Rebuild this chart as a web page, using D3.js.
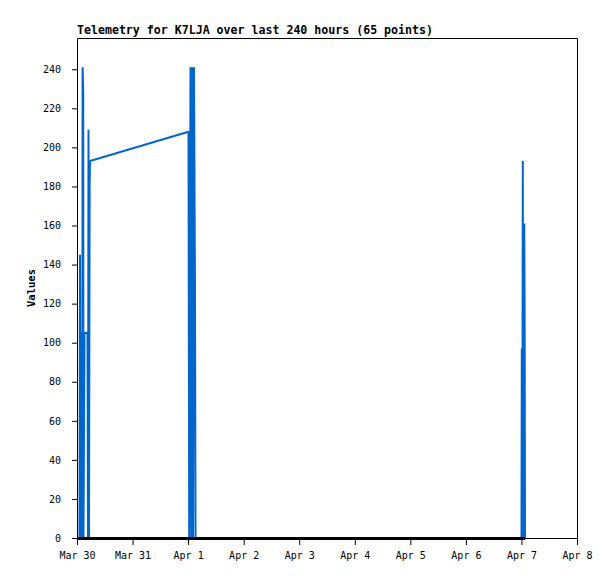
<!DOCTYPE html>
<html>
<head>
<meta charset="utf-8">
<script src="https://cdn.jsdelivr.net/npm/d3@7"></script>
<style>
  body { margin: 0; background: #fff; }
  svg { display: block; }
  .tick text { font-family: "DejaVu Sans Mono", monospace; font-size: 10px; fill: #000; }
  .title { font-family: "DejaVu Sans Mono", monospace; font-weight: bold; font-size: 11.6px; }
  .ylabel { font-family: "DejaVu Sans Mono", monospace; font-weight: bold; font-size: 10.5px; }
</style>
</head>
<body>
<div id="chart"></div>
<script>
"use strict";

// telemetry samples (UTC) and values
var times = [
  "2024-03-30T01:05", "2024-03-30T01:18", "2024-03-30T01:31", "2024-03-30T01:44",
  "2024-03-30T02:10", "2024-03-30T02:17", "2024-03-30T02:25", "2024-03-30T02:41",
  "2024-03-30T02:48", "2024-03-30T03:14", "2024-03-30T04:32", "2024-03-30T04:45",
  "2024-03-30T04:58", "2024-03-30T05:11", "2024-03-30T05:27", "2024-03-30T05:37",
  "2024-04-01T00:10", "2024-04-01T00:28", "2024-04-01T01:02", "2024-04-01T01:23",
  "2024-04-01T01:46", "2024-04-01T02:07", "2024-04-01T02:33", "2024-04-01T02:59",
  "2024-04-01T03:12",
  "2024-04-07T00:01", "2024-04-07T00:09", "2024-04-07T00:22", "2024-04-07T00:35",
  "2024-04-07T00:48", "2024-04-07T01:12", "2024-04-07T01:22", "2024-04-07T01:32"
];
var values = [
  0, 145, 0, 105,
  105, 0, 241, 229,
  0, 105, 105, 0,
  209, 0, 181, 193,
  208, 0, 241, 0,
  241, 0, 241, 121,
  0,
  0, 97, 0, 193,
  0, 161, 120, 0
];
var yTicks = [0, 20, 40, 60, 80, 100, 120, 140, 160, 180, 200, 220, 240];
var xTicks = ["2024-03-30", "2024-03-31", "2024-04-01", "2024-04-02", "2024-04-03",
              "2024-04-04", "2024-04-05", "2024-04-06", "2024-04-07", "2024-04-08"];
var titleText = "Telemetry for K7LJA over last 240 hours (65 points)";

var margin = {top: 38, right: 38, bottom: 41, left: 77};
var width = 500, height = 500;

var parse = d3.utcParse("%Y-%m-%dT%H:%M");
var parseDay = d3.utcParse("%Y-%m-%d");
var data = times.map(function(t, i) { return {date: parse(t), value: values[i]}; });

var x = d3.scaleUtc()
    .domain([parseDay(xTicks[0]), parseDay(xTicks[xTicks.length - 1])])
    .range([0, width]);
var y = d3.scaleLinear()
    .domain([0, 256])
    .range([height, 0]);

var svg = d3.select("#chart").append("svg")
    .attr("width", 615)
    .attr("height", 579);

svg.append("rect").attr("width", 615).attr("height", 579).attr("fill", "#fff");

svg.append("text")
    .attr("class", "title")
    .attr("x", margin.left)
    .attr("y", 34)
    .text(titleText);

svg.append("text")
    .attr("class", "ylabel")
    .attr("transform", "translate(35," + (margin.top + height / 2) + ") rotate(-90)")
    .attr("text-anchor", "middle")
    .text("Values");

var g = svg.append("g")
    .attr("transform", "translate(" + margin.left + "," + margin.top + ")");

// frame (top and right)
g.append("path")
    .attr("d", "M0.5,0.5H" + (width + 0.5) + "V" + (height + 0.5))
    .attr("fill", "none")
    .attr("stroke", "#000");

var line = d3.line()
    .x(function(d) { return x(d.date); })
    .y(function(d) { return y(d.value); });

g.append("path")
    .datum(data)
    .attr("fill", "none")
    .attr("stroke", "#0066cc")
    .attr("stroke-width", 2)
    .attr("stroke-linejoin", "bevel")
    .attr("d", line);

// zero baseline series
var zeroLine = d3.line()
    .x(function(d) { return x(d.date); })
    .y(function() { return y(0); });

g.append("path")
    .datum([{date: x.domain()[0]}].concat(data))
    .attr("fill", "none")
    .attr("stroke", "#000")
    .attr("stroke-width", 3)
    .attr("shape-rendering", "crispEdges")
    .attr("d", zeroLine);

g.append("g")
    .attr("transform", "translate(0," + height + ")")
    .call(d3.axisBottom(x)
      .tickValues(xTicks.map(parseDay))
      .tickFormat(d3.utcFormat("%b %-d"))
      .tickSize(7)
      .tickSizeOuter(0)
      .tickPadding(7))
    .call(function(a) { a.selectAll("line, path").attr("stroke", "#000"); });

g.append("g")
    .call(d3.axisLeft(y)
      .tickValues(yTicks)
      .tickSize(5)
      .tickSizeOuter(0)
      .tickPadding(11))
    .call(function(a) { a.selectAll("line, path").attr("stroke", "#000"); });
</script>
</body>
</html>
